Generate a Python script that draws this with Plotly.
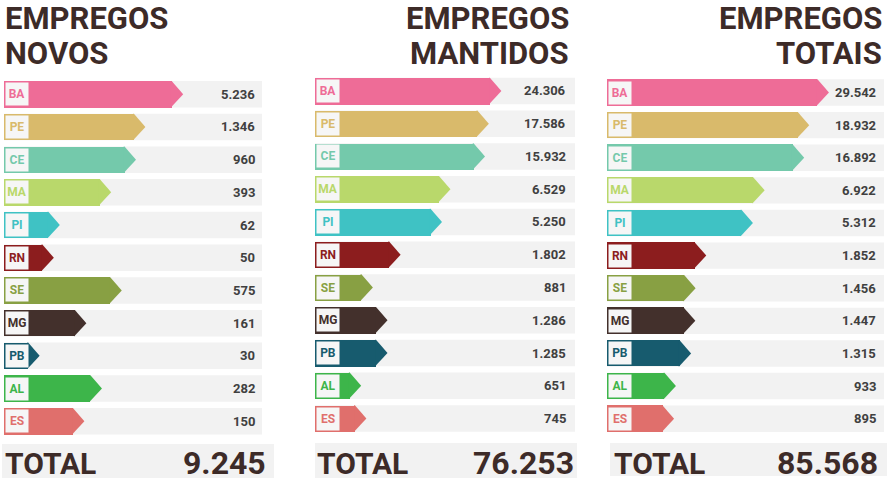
import plotly.graph_objects as go

# ---------------- data ----------------
states = ["BA", "PE", "CE", "MA", "PI", "RN", "SE", "MG", "PB", "AL", "ES"]
novos = [5236, 1346, 960, 393, 62, 50, 575, 161, 30, 282, 150]
mantidos = [24306, 17586, 15932, 6529, 5250, 1802, 881, 1286, 1285, 651, 745]
totais = [29542, 18932, 16892, 6922, 5312, 1852, 1456, 1447, 1315, 933, 895]
totals = [9245, 76253, 85568]
title_line1 = ["EMPREGOS", "EMPREGOS", "EMPREGOS"]
title_line2 = ["NOVOS", "MANTIDOS", "TOTAIS"]
total_label = "TOTAL"

# ---------------- style ----------------
colors = ["#ee6c97", "#d9ba6b", "#74c9ab", "#b9d86b", "#3fc2c4", "#8c1d1e",
          "#88a043", "#43302c", "#175b6e", "#3db54a", "#e06f6c"]
W, H = 888, 485
ROW_GRAY = "#f2f2f2"
TXT = "#404040"
DARK = "#3d2b28"
FONT = "Roboto"
HALF = 0.405        # half bar thickness (category units)
HEAD_PX = 11.5      # arrow head length in px


def fmt(v):
    return f"{v:,}".replace(",", ".")


def px_x(p):
    return p / W


def px_y(p):
    return 1 - p / H


panels = [
    dict(vals=novos, x0=4, x1=262, top=77.9, bot=437.6, rng=[1.1, 5.13],
         vx=-5, title_x=3, title_anchor="left", tot_l=3, tot_r=268, box=(2, 274, 444, 478)),
    dict(vals=mantidos, x0=315, x1=575, top=74.6, bot=434.9, rng=[2.425, 5.34],
         vx=-7, title_x=571, title_anchor="right", tot_l=315, tot_r=576, box=(315, 577, 443, 478)),
    dict(vals=totais, x0=607, x1=884, top=76.2, bot=435.0, rng=[2.407, 5.123],
         vx=-6, title_x=884, title_anchor="right", tot_l=612, tot_r=880, box=(610, 887, 443, 476)),
]

fig = go.Figure()
shapes = []
annotations = []
layout_axes = {}

for i, p in enumerate(panels):
    n = i + 1
    xa = "x" if n == 1 else f"x{n}"
    ya = "y" if n == 1 else f"y{n}"
    yo = f"y{n + 3}"           # numeric overlay axis for the arrow heads
    xname = "xaxis" if n == 1 else f"xaxis{n}"
    yname = "yaxis" if n == 1 else f"yaxis{n}"
    yoname = f"yaxis{n + 3}"

    # main bars
    fig.add_trace(go.Bar(
        x=p["vals"], y=states, orientation="h", xaxis=xa, yaxis=ya,
        marker=dict(color=colors, line=dict(width=0)), width=2 * HALF,
        hoverinfo="skip", showlegend=False))

    # arrow heads: triangles attached to the end of each bar (log-axis scale)
    px_per_dec = (p["x1"] - p["x0"]) / (p["rng"][1] - p["rng"][0])
    f_tip = 10 ** (HEAD_PX / px_per_dec)
    f_back = 10 ** (-0.8 / px_per_dec)
    for k, v in enumerate(p["vals"]):
        fig.add_trace(go.Scatter(
            x=[v * f_back, v, v * f_tip, v, v * f_back],
            y=[k - HALF, k - HALF, k, k + HALF, k + HALF],
            xaxis=xa, yaxis=yo, mode="lines", fill="toself",
            fillcolor=colors[k], line=dict(width=0, color=colors[k]),
            hoverinfo="skip", showlegend=False))

    layout_axes[xname] = dict(type="log", range=p["rng"], domain=[px_x(p["x0"]), px_x(p["x1"])],
                              visible=False, anchor=ya, fixedrange=True)
    layout_axes[yname] = dict(type="category", categoryorder="array", categoryarray=states,
                              range=[10.5, -0.5], domain=[px_y(p["bot"]), px_y(p["top"])],
                              visible=False, anchor=xa, fixedrange=True)
    layout_axes[yoname] = dict(type="linear", range=[10.5, -0.5], overlaying=ya,
                               visible=False, anchor=xa, fixedrange=True)

    xdom = f"{xa} domain"
    for k, s in enumerate(states):
        # gray row background
        shapes.append(dict(type="rect", xref=xdom, yref=ya, x0=0, x1=1,
                           y0=k - HALF, y1=k + HALF, fillcolor=ROW_GRAY,
                           line=dict(width=0), layer="below"))
        # state label box
        annotations.append(dict(xref=xdom, yref=ya, x=0, y=s, xanchor="left", yanchor="middle",
                                xshift=1, text=f"<b>{s}</b>", showarrow=False,
                                font=dict(family=FONT, size=12, color=colors[k]),
                                bgcolor="#f6f6f6", width=20, height=20, borderpad=1,
                                align="center", valign="middle"))
        # value
        annotations.append(dict(xref=xdom, yref=ya, x=1, y=s, xanchor="right", yanchor="middle",
                                xshift=p["vx"], text=f"<b>{fmt(p['vals'][k])}</b>", showarrow=False,
                                font=dict(family=FONT, size=13, color=TXT)))

    # titles
    annotations.append(dict(xref="paper", yref="paper", x=px_x(p["title_x"]), y=px_y(18.5),
                            xanchor=p["title_anchor"], yanchor="middle",
                            text=f"<b>{title_line1[i]}</b>", showarrow=False,
                            font=dict(family=FONT, size=31, color=DARK)))
    annotations.append(dict(xref="paper", yref="paper", x=px_x(p["title_x"]), y=px_y(53),
                            xanchor=p["title_anchor"], yanchor="middle",
                            text=f"<b>{title_line2[i]}</b>", showarrow=False,
                            font=dict(family=FONT, size=31, color=DARK)))

    # total box
    bx0, bx1, by0, by1 = p["box"]
    shapes.append(dict(type="rect", xref="paper", yref="paper",
                       x0=px_x(bx0), x1=px_x(bx1), y0=px_y(by1), y1=px_y(by0),
                       fillcolor=ROW_GRAY, line=dict(width=0), layer="below"))
    annotations.append(dict(xref="paper", yref="paper", x=px_x(p["tot_l"]), y=px_y(463),
                            xanchor="left", yanchor="middle", text=f"<b>{total_label}</b>",
                            showarrow=False, font=dict(family=FONT, size=30, color=DARK)))
    annotations.append(dict(xref="paper", yref="paper", x=px_x(p["tot_r"]), y=px_y(463),
                            xanchor="right", yanchor="middle", text=f"<b>{fmt(totals[i])}</b>",
                            showarrow=False, font=dict(family=FONT, size=32, color=DARK)))

fig.update_layout(
    width=W, height=H, margin=dict(l=0, r=0, t=0, b=0),
    paper_bgcolor="white", plot_bgcolor="white",
    showlegend=False, bargap=0, shapes=shapes, annotations=annotations,
    font=dict(family=FONT),
    **layout_axes,
)

fig.write_html("out.html", config={"displayModeBar": False},
               post_script="document.body.style.margin='0px';")
